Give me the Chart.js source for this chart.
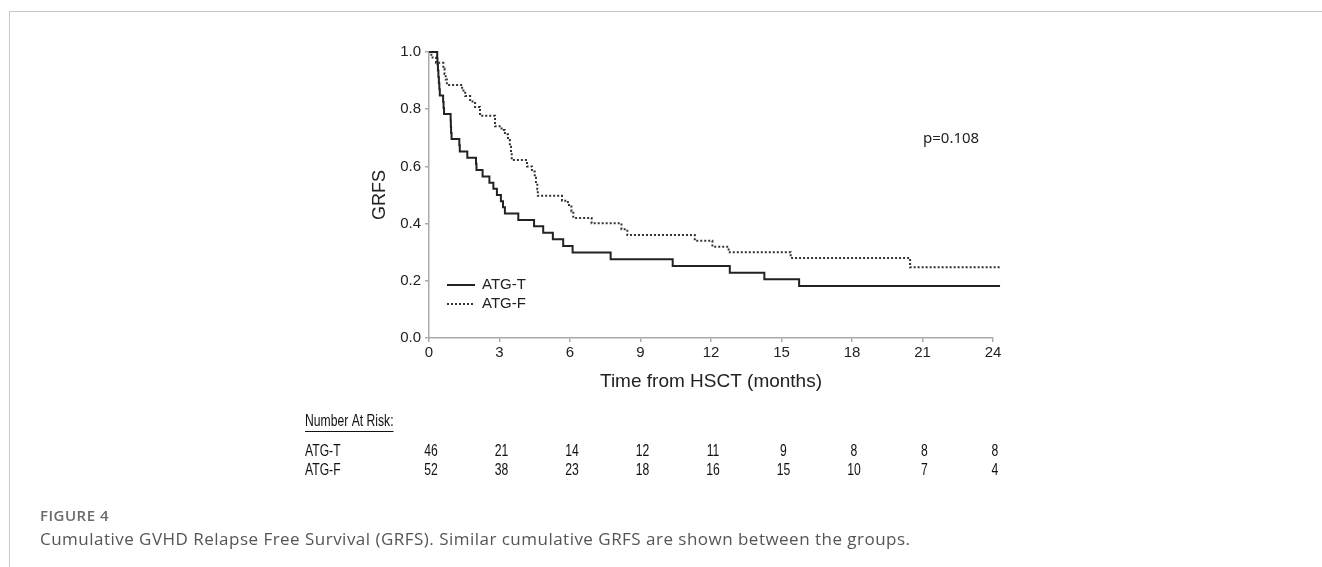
<!DOCTYPE html>
<html><head><meta charset="utf-8">
<script src="https://cdn.jsdelivr.net/npm/chart.js@4.4.1/dist/chart.umd.min.js"></script>
<style>
html,body{margin:0;padding:0;background:#fff;}
#wrap{position:relative;width:1322px;height:567px;overflow:hidden;background:#fff;}
#frame{position:absolute;left:9px;top:11px;width:1330px;height:570px;border-left:1px solid #c8c8c8;border-top:1px solid #c8c8c8;}
canvas{position:absolute;left:0;top:0;}
.fig{position:absolute;left:40px;top:505px;font-family:"Open Sans",sans-serif;font-weight:600;font-size:15px;color:#6a6a6a;letter-spacing:0.5px;}
.cap{position:absolute;left:40px;top:527px;font-family:"Open Sans",sans-serif;font-size:17px;color:#555;letter-spacing:0.48px;}
</style></head>
<body>
<div id="wrap">
<div id="frame"></div>
<canvas id="c" width="1322" height="567"></canvas>
<div class="fig">FIGURE 4</div>
<div class="cap">Cumulative GVHD Relapse Free Survival (GRFS). Similar cumulative GRFS are shown between the groups.</div>
</div>
<script>
// ---- data ----
const atgT_time = [0,0.35,0.36,0.38,0.40,0.42,0.44,0.46,0.60,0.62,0.64,0.92,0.93,0.94,0.96,1.29,1.31,1.63,2.00,2.02,2.28,2.57,2.74,2.89,3.06,3.15,3.23,3.80,4.47,4.86,5.27,5.71,6.11,7.73,10.37,12.80,14.27,15.75,24.3];
const atgT_surv = [1,0.978,0.957,0.935,0.913,0.891,0.870,0.848,0.826,0.804,0.783,0.761,0.739,0.717,0.696,0.674,0.652,0.630,0.609,0.587,0.565,0.543,0.522,0.500,0.478,0.457,0.435,0.413,0.391,0.368,0.345,0.322,0.299,0.275,0.252,0.228,0.205,0.182,0.182];
const atgF_time = [0,0.10,0.30,0.61,0.66,0.71,0.76,1.41,1.54,1.75,1.96,2.17,2.81,3.09,3.23,3.36,3.44,3.49,3.52,4.17,4.38,4.50,4.55,4.61,4.63,5.66,5.91,6.06,6.14,6.92,8.19,8.44,11.31,12.06,12.75,15.39,20.47,24.3];
const atgF_surv = [1,0.981,0.962,0.942,0.923,0.904,0.885,0.865,0.846,0.827,0.808,0.777,0.740,0.727,0.712,0.692,0.669,0.646,0.622,0.600,0.582,0.560,0.541,0.520,0.497,0.480,0.465,0.442,0.420,0.401,0.380,0.360,0.340,0.319,0.300,0.280,0.247,0.247];
const seriesNames = ['ATG-T','ATG-F'];
const riskTimes = [0,3,6,9,12,15,18,21,24];
const riskT = [46,21,14,12,11,9,8,8,8];
const riskF = [52,38,23,18,16,15,10,7,4];
const pText = 'p=0.108';

const FONT = '"Liberation Sans", Arial, sans-serif';

function narrowText(ctx, text, x, y, sx){
  ctx.save();
  ctx.translate(x, y);
  ctx.scale(sx, 1);
  ctx.fillText(text, 0, 0);
  ctx.restore();
}

const extras = {
  id:'extras',
  afterDraw(chart){
    const {ctx, chartArea:a, scales:{x}} = chart;
    ctx.save();
    // legend
    ctx.textBaseline = 'middle';
    ctx.font = '15px ' + FONT;
    ctx.fillStyle = '#222';
    const lx0 = a.left + 18, lx1 = a.left + 46;
    const rows = [285, 304];
    ctx.lineWidth = 2;
    ctx.strokeStyle = '#222';
    ctx.setLineDash([]);
    ctx.beginPath(); ctx.moveTo(lx0, rows[0]); ctx.lineTo(lx1, rows[0]); ctx.stroke();
    ctx.strokeStyle = '#333';
    ctx.setLineDash([2,2]);
    ctx.beginPath(); ctx.moveTo(lx0, rows[1]); ctx.lineTo(lx1, rows[1]); ctx.stroke();
    ctx.setLineDash([]);
    ctx.textAlign = 'left';
    ctx.fillText(seriesNames[0], lx1 + 7, rows[0]);
    ctx.fillText(seriesNames[1], lx1 + 7, rows[1]);
    // p value
    ctx.font = '15px "Noto Sans", "Open Sans", sans-serif';
    ctx.fillText(pText, 923, 139);
    // risk table (condensed sans)
    const SX = 0.76;
    ctx.font = '16px ' + FONT;
    ctx.fillStyle = '#111';
    const tx = 305;
    const head = 'Number At Risk:';
    narrowText(ctx, head, tx, 422, SX);
    const w = ctx.measureText(head).width * SX;
    ctx.lineWidth = 1; ctx.strokeStyle = '#111';
    ctx.beginPath(); ctx.moveTo(tx, 431.5); ctx.lineTo(tx + w, 431.5); ctx.stroke();
    narrowText(ctx, seriesNames[0], tx, 452, SX);
    narrowText(ctx, seriesNames[1], tx, 471, SX);
    ctx.textAlign = 'center';
    riskTimes.forEach((t,i)=>{
      const px = x.getPixelForValue(t) + 2;
      narrowText(ctx, String(riskT[i]), px, 452, SX);
      narrowText(ctx, String(riskF[i]), px, 471, SX);
    });
    ctx.restore();
  }
};

const tickFont = {family: FONT, size: 15};
new Chart(document.getElementById('c'), {
  type:'line',
  data:{datasets:[
    {label:seriesNames[0], data: atgT_time.map((t,i)=>({x:t,y:atgT_surv[i]})), stepped:'before',
     borderColor:'#222', borderWidth:2, pointRadius:0, fill:false, clip:false},
    {label:seriesNames[1], data: atgF_time.map((t,i)=>({x:t,y:atgF_surv[i]})), stepped:'before',
     borderColor:'#333', borderWidth:2, borderDash:[2,2], pointRadius:0, fill:false, clip:false}
  ]},
  options:{
    responsive:false, animation:false,
    layout:{padding:{left:359, top:52, right:329, bottom:169}},
    plugins:{legend:{display:false}, tooltip:{enabled:false}},
    scales:{
      x:{type:'linear', min:0, max:24,
        ticks:{stepSize:3, color:'#222', font:tickFont, padding:2, maxRotation:0, autoSkip:false},
        grid:{drawOnChartArea:false, drawTicks:true, tickLength:4, color:'#aaa', lineWidth:1.5},
        border:{color:'#aaa', width:1.5},
        title:{display:true, text:'Time from HSCT (months)', color:'#222', font:{family:FONT, size:19}, padding:{top:0,bottom:5}},
        afterFit(s){ s.height = 60; }
      },
      y:{type:'linear', min:0, max:1,
        ticks:{stepSize:0.2, color:'#222', font:tickFont, padding:4, callback:v=>Number(v).toFixed(1)},
        grid:{drawOnChartArea:false, drawTicks:true, tickLength:4, color:'#aaa', lineWidth:1.5},
        border:{color:'#aaa', width:1.5},
        title:{display:true, text:'GRFS', color:'#222', font:{family:FONT, size:18}, padding:{top:10,bottom:0}},
        afterFit(s){ s.width = 70; }
      }
    }
  },
  plugins:[extras]
});
</script>
</body></html>
